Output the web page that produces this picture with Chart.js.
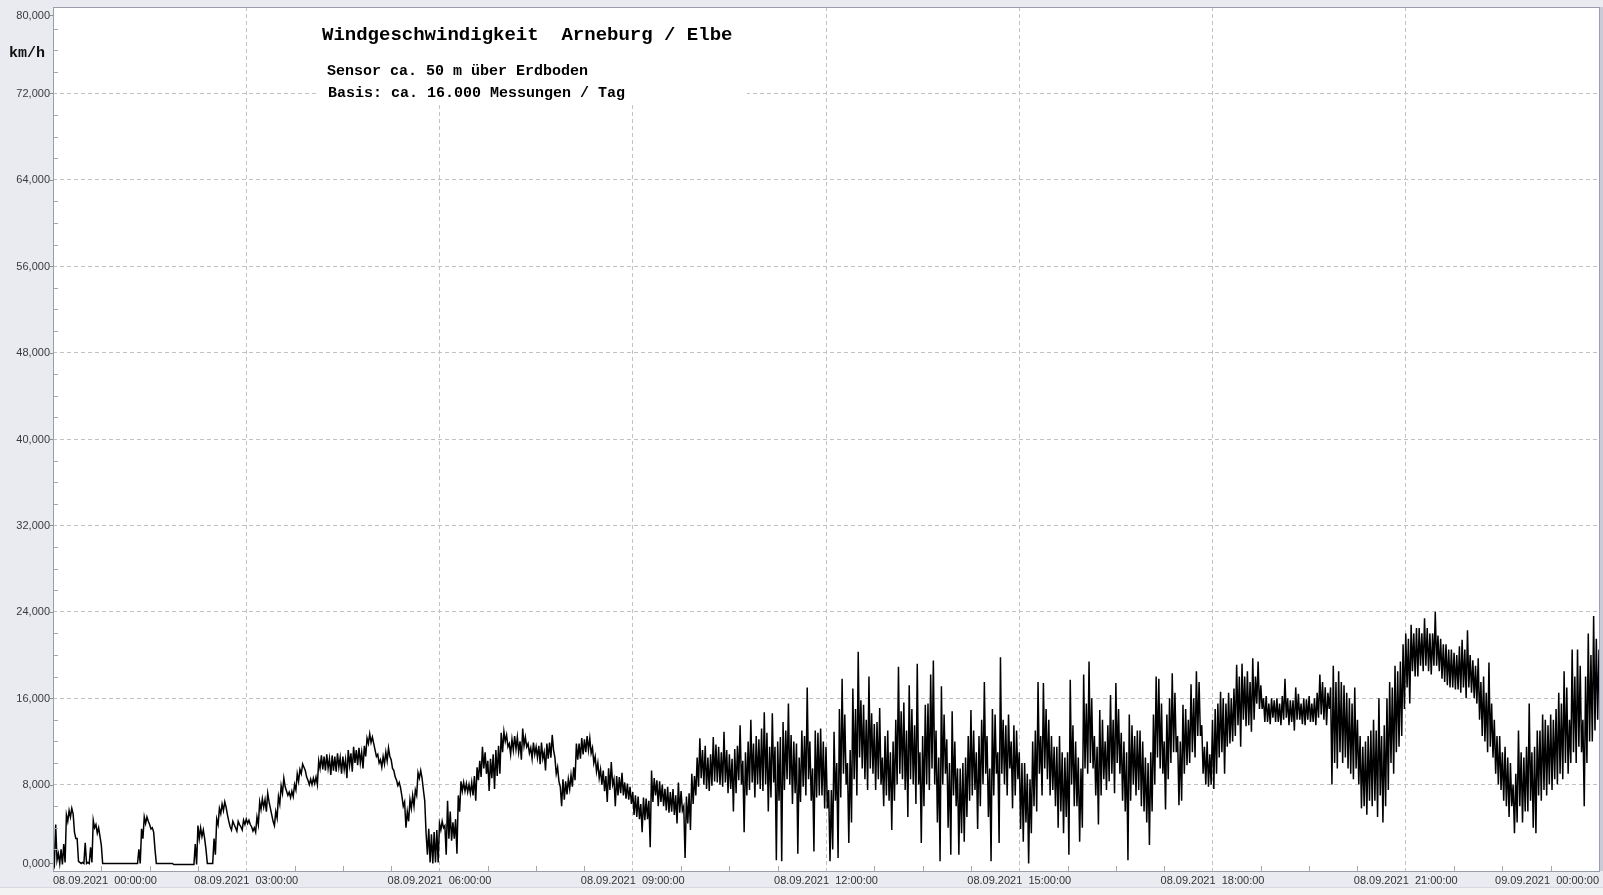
<!DOCTYPE html>
<html><head><meta charset="utf-8">
<script src="https://cdn.jsdelivr.net/npm/chart.js@4.4.1/dist/chart.umd.min.js"></script>
<style>html,body{margin:0;padding:0;background:#e9ebf1;overflow:hidden}#wrap{width:1603px;height:895px;position:relative}canvas{display:block}</style>
</head><body><div id="wrap"><canvas id="c" width="1603" height="895" style="width:1603px;height:895px"></canvas></div>
<script>
const titleText = 'Windgeschwindigkeit  Arneburg / Elbe';
const subtitleLines = ['Sensor ca. 50 m über Erdboden', 'Basis: ca. 16.000 Messungen / Tag'];
const unitLabel = 'km/h';
const xTickLabels = ['08.09.2021  00:00:00','08.09.2021  03:00:00','08.09.2021  06:00:00','08.09.2021  09:00:00','08.09.2021  12:00:00','08.09.2021  15:00:00','08.09.2021  18:00:00','08.09.2021  21:00:00','09.09.2021  00:00:00'];
const yTickLabels = ['0,000','8,000','16,000','24,000','32,000','40,000','48,000','56,000','64,000','72,000','80,000'];
const stepMinutes = 2.5;
// wind speed (km/h) in 2.5-minute intervals from 08.09.2021 00:00: one extreme per interval ...
const kmhA = [
0.9,4.3,0.7,2.0,0.8,5.2,5.6,5.3,3.6,0.9,0.8,0.8,2.6,0.8,0.8,4.7,3.5,4.0,0.7,0.7,0.7,0.7,0.7,0.7,
0.7,0.7,0.7,0.7,0.7,0.7,0.7,0.7,0.7,3.9,5.0,4.6,4.3,3.6,0.7,0.7,0.7,0.7,0.7,0.7,0.7,0.6,0.6,0.6,
0.6,0.6,0.6,0.6,0.6,0.6,4.2,3.2,3.8,0.7,0.7,0.7,1.5,4.3,5.3,6.2,5.9,5.2,4.1,4.3,4.0,4.3,4.1,4.3,
4.8,4.3,4.1,3.6,4.3,5.7,6.7,5.5,7.2,5.8,4.6,4.9,6.2,7.2,8.6,7.4,6.8,6.9,7.5,8.3,9.4,9.6,9.3,8.4,
8.5,8.1,8.0,9.5,10.7,9.3,10.8,8.9,10.7,9.2,10.9,9.0,10.6,8.6,11.2,9.2,11.5,9.8,11.4,9.5,11.6,11.8,12.7,11.8,
10.6,10.0,10.3,9.9,11.0,11.4,9.5,8.7,8.4,7.7,6.9,4.0,5.5,6.6,6.0,7.5,8.6,9.3,6.5,1.5,3.9,0.7,3.6,0.8,
4.4,4.0,1.5,6.5,2.8,4.5,1.6,5.5,8.3,7.4,8.1,7.2,8.2,6.5,9.6,8.7,11.5,9.0,7.4,10.4,7.6,11.2,9.0,12.8,
12.9,11.5,10.8,12.2,11.3,12.4,10.3,13.2,11.5,10.9,10.4,10.8,11.5,9.9,11.9,9.3,11.8,10.5,12.6,10.5,8.3,6.0,8.5,7.1,
8.5,7.8,9.6,11.8,10.4,12.3,11.0,12.5,10.9,11.4,9.2,10.0,8.0,9.3,6.4,9.5,10.1,6.0,8.8,7.2,9.1,6.7,8.1,6.2,
7.3,5.0,6.9,3.6,6.8,4.8,2.2,9.3,7.0,8.4,6.4,8.0,5.6,7.8,5.5,7.6,4.4,8.2,5.6,1.2,6.9,3.8,9.0,7.0,
10.5,12.3,8.0,11.6,7.4,10.8,12.4,8.2,11.5,7.8,12.9,7.2,10.8,5.5,11.3,8.4,13.5,3.6,11.0,7.5,14.0,6.8,12.5,7.6,
13.2,14.7,5.5,11.5,14.6,1.0,12.0,0.9,13.8,8.5,15.5,6.2,12.0,1.6,10.5,13.0,7.0,17.0,6.5,1.8,13.0,7.0,13.2,5.8,
5.8,0.9,7.5,12.9,1.2,15.0,17.8,8.0,2.6,11.2,16.9,7.0,20.3,9.5,15.4,7.5,18.0,9.0,13.6,8.5,15.1,10.5,7.0,13.0,
3.8,12.0,8.0,18.9,8.5,15.6,5.0,17.2,8.0,6.2,19.2,2.6,12.5,15.4,7.5,18.2,19.5,4.5,0.9,17.1,9.0,12.2,1.5,14.8,
6.0,1.5,9.5,2.7,10.5,6.5,14.9,7.5,3.9,12.5,8.0,17.5,5.0,0.9,15.0,9.0,2.6,19.8,8.0,13.5,9.5,5.8,13.5,8.5,
3.9,2.7,10.0,0.7,8.5,12.0,5.5,17.5,12.5,17.4,8.5,14.0,7.5,11.5,4.0,12.5,3.5,10.5,1.5,17.7,6.0,12.0,2.7,9.5,
18.2,9.0,19.4,9.5,7.0,4.3,14.9,8.5,12.0,8.3,16.3,7.2,17.4,9.0,12.8,5.5,1.0,14.5,8.0,12.5,7.5,13.0,5.5,10.5,
2.4,11.0,8.0,18.0,17.8,9.0,5.7,14.5,10.0,18.3,11.0,6.1,12.0,15.4,9.8,14.0,17.3,10.5,18.5,12.5,9.0,11.5,7.8,10.8,
7.6,15.0,10.5,16.6,9.0,15.5,11.8,16.0,16.9,19.1,11.5,19.2,13.4,18.5,12.9,19.7,15.5,19.4,15.0,16.0,13.8,15.5,14.2,15.8,
13.8,15.5,14.0,17.8,13.5,15.8,13.0,17.0,14.0,15.5,13.5,15.9,13.8,15.5,13.5,16.5,18.2,14.0,17.0,15.0,8.0,19.0,9.5,18.5,
10.0,17.2,9.5,16.0,8.5,17.0,8.0,5.8,11.5,5.2,12.5,6.0,14.0,5.0,16.0,4.5,13.5,7.5,17.5,9.0,19.0,11.5,19.4,15.0,
22.0,15.5,22.8,18.0,22.5,19.0,22.0,23.4,18.5,22.0,19.0,24.0,18.5,21.5,17.5,21.0,17.0,20.5,16.8,20.0,16.5,21.4,16.0,22.3,
16.5,19.5,15.5,19.7,12.5,18.0,11.0,19.3,10.5,14.0,8.0,12.5,6.5,11.5,5.0,10.0,3.5,9.0,13.0,4.5,10.5,5.5,15.5,4.0,
3.5,13.0,6.5,14.5,7.0,13.5,7.5,14.0,8.0,16.5,8.5,18.5,9.0,14.0,20.5,10.0,20.5,11.0,6.0,18.0,22.0,12.0,23.6,14.0,
20.5
];
// ... and the opposite extreme of the same interval
const kmhB = [
0.5,1.0,1.6,0.6,2.5,4.6,5.0,5.8,3.0,3.0,0.7,0.7,0.7,0.7,2.2,4.0,4.3,3.2,2.4,0.7,0.7,0.7,0.7,0.7,
0.7,0.7,0.7,0.7,0.7,0.7,0.7,0.7,2.0,3.0,4.4,5.0,3.9,4.0,2.0,0.7,0.7,0.7,0.7,0.7,0.7,0.6,0.6,0.6,
0.6,0.6,0.6,0.6,0.6,2.5,3.0,4.0,3.0,2.0,0.7,0.7,3.0,4.8,5.8,5.6,6.4,4.6,3.8,4.6,3.7,4.6,3.8,4.7,
4.4,4.7,3.7,4.0,5.0,6.4,5.9,6.6,6.4,5.2,4.2,5.5,6.9,7.9,7.8,7.0,7.3,7.4,8.0,9.0,9.0,9.9,8.7,8.0,
8.0,8.6,8.7,10.2,9.4,10.6,9.5,10.4,9.3,10.6,9.6,10.5,9.4,10.3,9.8,10.9,10.0,11.2,10.0,11.0,10.6,12.3,11.9,12.4,
11.2,10.8,9.6,10.6,10.2,10.6,10.3,9.3,7.9,8.2,6.0,6.4,4.6,5.8,7.0,7.0,9.1,8.6,7.5,3.5,0.8,3.4,0.8,3.8,
3.8,4.6,4.2,3.0,5.5,3.0,4.8,7.0,7.4,8.2,7.3,8.0,7.0,8.8,8.4,10.2,9.5,11.0,10.2,8.6,10.8,8.8,11.6,11.0,
12.0,12.6,11.8,11.2,12.5,11.0,12.0,11.6,12.4,11.8,11.4,11.9,10.5,11.6,10.4,11.0,10.4,11.9,11.2,9.0,9.6,7.8,6.6,8.3,
7.6,8.9,8.4,10.3,11.8,10.8,12.2,11.2,12.3,10.0,10.6,8.6,9.4,7.4,8.8,7.5,8.0,8.5,7.0,8.7,7.0,8.2,6.6,7.8,
5.2,7.0,4.8,6.2,4.7,6.7,6.5,6.4,8.6,6.0,8.3,6.0,7.6,5.4,7.3,5.2,7.0,5.4,7.4,6.0,4.4,7.2,6.2,8.8,
7.8,8.6,11.2,7.6,10.5,7.9,8.3,11.7,8.0,11.0,8.2,11.2,7.6,10.4,7.2,11.6,8.0,10.2,7.0,12.0,8.2,11.8,8.0,12.2,
7.4,8.0,12.8,6.8,8.2,11.5,6.5,12.4,7.5,13.0,8.0,12.6,7.2,11.8,6.4,7.8,12.5,8.5,12.0,9.5,6.8,12.8,7.0,12.0,
11.5,7.5,2.0,6.5,10.0,6.8,9.0,14.5,10.0,4.5,8.5,15.0,10.5,15.8,8.5,14.0,9.5,14.6,7.5,13.8,8.0,6.0,12.5,6.5,
11.0,6.5,14.0,9.0,14.8,7.5,13.0,8.5,15.0,13.5,8.0,11.0,6.0,8.0,15.5,9.5,8.0,13.0,10.5,8.0,14.5,4.0,10.0,7.0,
12.0,9.5,3.5,10.0,5.0,12.5,7.0,13.0,11.0,6.0,14.0,9.0,12.5,9.5,7.0,14.5,11.0,9.0,14.0,7.0,14.5,12.0,7.0,13.0,
11.0,10.0,4.5,9.0,3.5,6.0,13.0,9.0,7.0,9.5,15.0,7.0,12.5,6.0,11.5,5.5,11.0,5.0,11.0,8.0,13.5,6.0,10.5,4.0,
9.5,15.5,10.0,16.0,12.5,11.5,7.0,14.0,7.5,13.5,9.0,14.0,10.0,15.0,6.5,12.0,11.0,6.5,13.5,7.0,13.0,6.0,12.0,4.5,
10.0,5.5,14.5,10.5,9.5,15.5,12.0,8.5,16.0,11.0,16.5,12.5,6.5,9.0,15.0,10.0,11.0,16.0,12.5,17.5,13.5,8.0,12.0,8.0,
14.0,9.0,15.5,11.0,16.0,11.5,16.5,12.0,12.5,13.5,18.0,14.0,18.0,13.5,17.5,14.0,18.0,15.0,17.2,13.8,16.2,13.6,16.0,13.8,
16.0,13.5,16.2,14.2,16.0,13.8,15.8,14.0,16.4,13.6,16.0,14.0,16.2,13.8,16.0,14.2,14.5,17.5,13.5,16.5,17.0,10.0,17.5,11.0,
17.5,10.5,16.5,9.0,15.5,9.5,14.0,12.5,6.0,12.0,6.5,13.0,6.5,13.0,7.0,12.5,6.0,16.0,10.0,17.0,11.0,18.5,12.5,21.0,
17.0,21.5,18.5,22.0,18.0,22.5,18.5,19.0,22.5,18.2,22.0,19.0,21.8,17.8,21.0,17.2,20.5,17.0,20.2,16.8,20.8,17.0,20.5,17.0,
20.0,16.0,19.0,14.0,17.5,12.0,16.5,11.5,15.5,9.0,12.5,7.5,11.0,6.0,10.5,6.0,8.0,4.5,6.0,11.0,5.5,11.5,6.5,11.0,
11.5,7.0,13.0,7.5,14.0,8.0,14.5,8.5,15.0,9.0,15.5,10.0,17.0,10.0,11.0,18.0,11.5,19.0,14.0,10.0,12.0,20.0,13.0,21.5,
16.0
];

// each interval is drawn as its high value followed by its low value
const points = [];
kmhA.forEach((a, i) => {
  const t = i * stepMinutes / 60;
  const b = kmhB[i];
  if (i === kmhA.length - 1) { points.push({ x: t, y: a }); return; }
  points.push({ x: t, y: Math.max(a, b) });
  points.push({ x: t + stepMinutes / 120, y: Math.min(a, b) });
});

const GRID = '#c2c2c2';
const AXIS = '#9a9eab';

const decorPlugin = {
  id: 'decor',
  beforeDraw(chart) {
    const ctx = chart.ctx, a = chart.chartArea;
    ctx.save();
    ctx.fillStyle = '#e9ebf1';
    ctx.fillRect(0, 0, chart.width, chart.height);
    ctx.fillStyle = '#f3f3f3';
    ctx.fillRect(0, 888, chart.width, chart.height - 888);
    ctx.fillStyle = '#d6d9e1';
    ctx.fillRect(0, 887, chart.width, 1);
    ctx.fillStyle = '#ffffff';
    ctx.fillRect(a.left, a.top, a.right - a.left, a.bottom - a.top);
    ctx.fillStyle = '#c9cbd7';
    ctx.fillRect(a.right, a.top, chart.width - a.right, a.bottom - a.top);
    ctx.restore();
  },
  beforeDatasetsDraw(chart) {
    const ctx = chart.ctx, a = chart.chartArea;
    ctx.save();
    ctx.fillStyle = '#ffffff';
    ctx.fillRect(316, a.top + 1, 431, 95);
    ctx.restore();
  },
  afterDraw(chart) {
    const ctx = chart.ctx, a = chart.chartArea;
    const ys = chart.scales.y, xs = chart.scales.x;
    ctx.save();
    ctx.strokeStyle = AXIS; ctx.lineWidth = 1;
    ctx.beginPath();
    ctx.moveTo(a.left + 0.5, a.top + 0.5); ctx.lineTo(a.right + 0.5, a.top + 0.5);
    ctx.moveTo(a.left + 0.5, a.top); ctx.lineTo(a.left + 0.5, a.bottom + 1);
    ctx.moveTo(a.left, a.bottom + 0.5); ctx.lineTo(a.right + 1, a.bottom + 0.5);
    ctx.stroke();
    ctx.strokeStyle = '#9b9db0';
    ctx.beginPath();
    ctx.moveTo(a.right + 0.5, a.top); ctx.lineTo(a.right + 0.5, a.bottom + 1);
    ctx.stroke();
    ctx.strokeStyle = '#a8a8a8';
    ctx.beginPath();
    for (let v = 2; v < 80; v += 2) {
      if (v % 8 === 0) continue;
      const y = Math.round(ys.getPixelForValue(v)) + 0.5;
      ctx.moveTo(a.left + 1, y); ctx.lineTo(a.left + 5, y);
    }
    for (let h = 0.75; h < 24; h += 0.75) {
      if (Math.abs(h % 3) < 1e-6) continue;
      const x = Math.round(xs.getPixelForValue(h)) + 0.5;
      ctx.moveTo(x, a.bottom); ctx.lineTo(x, a.bottom - 5);
    }
    ctx.stroke();
    ctx.font = '11px "Liberation Sans", Arial, sans-serif';
    ctx.fillStyle = '#3a3a3a';
    ctx.textAlign = 'right';
    ctx.textBaseline = 'middle';
    ctx.strokeStyle = '#909090';
    yTickLabels.forEach((lab, i) => {
      let y = ys.getPixelForValue(i * 8);
      y = Math.min(Math.max(y, a.top + 8), a.bottom - 8);
      ctx.fillText(lab, a.left - 3, y + 0.5);
      ctx.beginPath();
      ctx.moveTo(a.left - 3, Math.round(y) + 0.5); ctx.lineTo(a.left, Math.round(y) + 0.5);
      ctx.stroke();
    });
    ctx.font = 'bold 15px "Liberation Mono", "DejaVu Sans Mono", monospace';
    ctx.fillStyle = '#111';
    ctx.textAlign = 'center';
    ctx.fillText(unitLabel, 27, 53);
    ctx.textAlign = 'left';
    ctx.fillStyle = '#000';
    ctx.font = 'bold 19px "Liberation Mono", "DejaVu Sans Mono", monospace';
    ctx.fillText(titleText, 322, 35);
    ctx.font = 'bold 15px "Liberation Mono", "DejaVu Sans Mono", monospace';
    ctx.fillText(subtitleLines[0], 327, 71);
    ctx.fillText(subtitleLines[1], 328, 93);
    ctx.restore();
  }
};

new Chart(document.getElementById('c'), {
  type: 'line',
  data: { datasets: [{ data: points, borderColor: '#000000', borderWidth: 1.5, pointRadius: 0, pointHoverRadius: 0, tension: 0, fill: false }] },
  options: {
    responsive: false,
    animation: false,
    events: [],
    parsing: false,
    normalized: true,
    layout: { padding: { left: 0, top: 7, right: 4, bottom: 0 } },
    plugins: { legend: { display: false }, tooltip: { enabled: false }, title: { display: false } },
    scales: {
      x: {
        type: 'linear', min: 0, max: 24,
        afterBuildTicks: (s) => { s.ticks = xTickLabels.map((_, i) => ({ value: i * 3 })); },
        ticks: { autoSkip: false, maxRotation: 0, align: 'inner', padding: 3, color: '#333333',
          font: { family: '"Liberation Sans", Arial, sans-serif', size: 11 },
          callback: (v, i) => xTickLabels[i] },
        grid: { color: GRID, lineWidth: 1, drawTicks: false },
        border: { display: false, dash: [4, 3] },
        afterFit: (s) => { s.height = 24; }
      },
      y: {
        min: 0, max: 80,
        ticks: { stepSize: 8, display: false },
        grid: { color: GRID, lineWidth: 1, drawTicks: false },
        border: { display: false, dash: [4, 3] },
        afterFit: (s) => { s.width = 53; }
      }
    }
  },
  plugins: [decorPlugin]
});
</script></body></html>
